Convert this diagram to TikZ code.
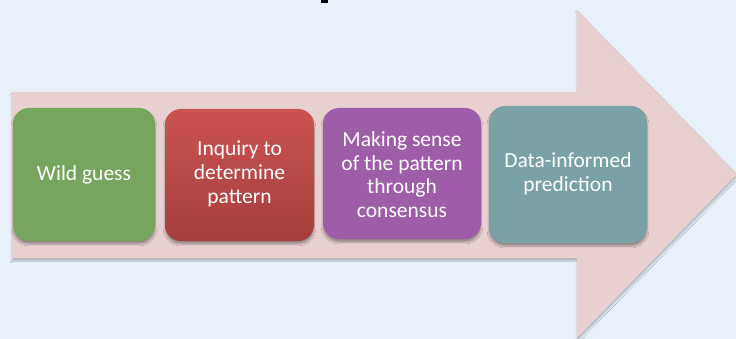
\documentclass[tikz,border=0pt]{standalone}
\usepackage{fontspec}
\setmainfont{Carlito}
\usetikzlibrary{shadows.blur}
\definecolor{bg}{HTML}{E8F0FA}
\definecolor{arrowpink}{HTML}{E8D0D1}
\definecolor{boxgreen}{HTML}{76A65E}
\definecolor{boxredtop}{HTML}{CB534F}
\definecolor{boxredbot}{HTML}{A33F3D}
\definecolor{boxpurple}{HTML}{9F5CA9}
\definecolor{boxteal}{HTML}{79A1A6}
\tikzset{
  stepbox/.style={rounded corners=16pt,
    blur shadow={shadow xshift=0pt, shadow yshift=-3pt, shadow blur steps=6, shadow opacity=35}},
  steptext/.style={align=center, text=white,
    font=\fontsize{21.5}{23.7}\selectfont, inner sep=0pt},
}
\begin{document}
\begin{tikzpicture}[x=1pt,y=-1pt]
\fill[bg] (0,0) rectangle (736,339);
\useasboundingbox (0,0) rectangle (736,339);
\fill[black] (321,0) rectangle (328,3);
\fill[arrowpink, blur shadow={shadow xshift=0pt, shadow yshift=-3pt, shadow blur steps=5, shadow opacity=25}]
  (12,92) -- (577,92) -- (577,10) -- (737,174) -- (577,338) -- (577,258) -- (12,258) -- cycle;
\path[stepbox, fill=boxgreen] (13,108) rectangle (155,241);
\node[steptext] (g) at (84,175) {Wild guess};
\path[stepbox, top color=boxredtop, bottom color=boxredbot] (165,109) rectangle (314,241);
\node[steptext] (r) at (239.5,174) {Inquiry to\\determine\\pattern};
\path[stepbox, fill=boxpurple] (323,108) rectangle (481,239);
\node[steptext] (p) at (402,174.5) {Making sense\\of the pattern\\through\\consensus};
\path[stepbox, fill=boxteal] (489,106) rectangle (647,243);
\node[steptext] (t) at (568,174) {Data-informed\\prediction};
\end{tikzpicture}
\end{document}
